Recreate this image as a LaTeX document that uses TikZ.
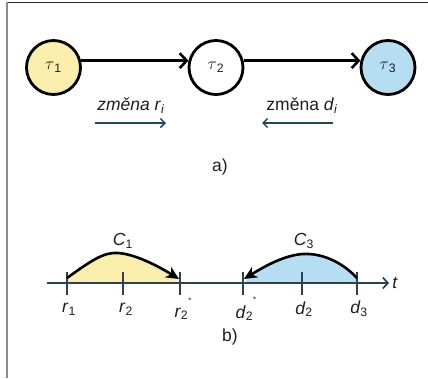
\documentclass[tikz,border=0pt]{standalone}
\usepackage{fontspec}
\setmainfont{Liberation Sans}
\usetikzlibrary{arrows.meta}
\definecolor{cyel}{RGB}{249,238,172}
\definecolor{cblu}{RGB}{182,222,243}
\definecolor{cteal}{RGB}{35,72,88}
\definecolor{caxis}{RGB}{45,65,78}
\definecolor{ctxt}{RGB}{30,30,30}
\definecolor{cframe}{RGB}{140,140,140}
\begin{document}
\begin{tikzpicture}[x=1pt,y=-1pt,
  every node/.style={text=ctxt,font=\fontsize{17.5}{20}\selectfont,inner sep=0pt},
  task/.style={circle,draw=black,line width=2.8pt,minimum size=54pt,inner sep=0pt},
  flow/.style={line width=2.6pt,-{Straight Barb[length=7pt,width=15pt]}},
  move/.style={line width=1.5pt,draw=cteal,-{Straight Barb[length=4.5pt,width=9pt]}},
  axisline/.style={line width=1.7pt,draw=caxis,-{Straight Barb[length=5pt,width=11pt]}},
  tickline/.style={line width=1.6pt,draw=caxis},
  carc/.style={line width=2.6pt,draw=black,-{Stealth[length=13pt,width=12pt,inset=4pt]}},
  lbl/.style={}]
\useasboundingbox (0,0) rectangle (428,378);
% frame
\draw[line width=1pt,black!85] (6,2.5) -- (428,2.5);
\draw[line width=2pt,cframe] (7,2) -- (7,378);
% part a
\node[task,fill=cyel] (t1) at (53.5,67.5) {$\tau$\textsubscript{1}};
\node[task,fill=white] (t2) at (216,67.5) {$\tau$\textsubscript{2}};
\node[task,fill=cblu] (t3) at (388,67.5) {$\tau$\textsubscript{3}};
\draw[flow] (t1.14) -- (t2.166);
\draw[flow] (t2.14) -- (t3.166);
\node[lbl] (zr) at (131,106) {\textit{změna r}\textsubscript{\textit{i}}};
\node[lbl] (zd) at (302,106) {změna \textit{d}\textsubscript{\textit{i}}};
\coordinate (zr1) at (95,123);
\coordinate (zr2) at (166,123);
\coordinate (zd1) at (333,123);
\coordinate (zd2) at (262,123);
\draw[move] (zr1) -- (zr2);
\draw[move] (zd1) -- (zd2);
\node (la) at (220,167) {a)};
% part b
\fill[cyel] (67,283) -- (67,278) .. controls (92,260) and (104,252) .. (118,253) .. controls (135,254) and (158,266) .. (177,280) -- (177,283) -- cycle;
\fill[cblu] (357,283) -- (357,278) .. controls (342,262) and (322,253) .. (303,254) .. controls (285,255) and (265,266) .. (246,280) -- (246,283) -- cycle;
\coordinate (ax0) at (47,283);
\coordinate (ax1) at (389,283);
\draw[axisline] (ax0) -- (ax1);
\node (tt) at (395,283) {\textit{t}};
\foreach \x in {67,123,180,243,302,357} \draw[tickline] (\x,272) -- (\x,295);
\coordinate (c1s) at (67,278);
\coordinate (c1e) at (179,279);
\coordinate (c3s) at (357,278);
\coordinate (c3e) at (244,279);
\draw[carc] (c1s) .. controls (92,260) and (104,252) .. (118,253) .. controls (135,254) and (158,266) .. (c1e);
\draw[carc] (c3s) .. controls (342,262) and (322,253) .. (303,254) .. controls (285,255) and (265,266) .. (c3e);
\node (C1) at (123,241) {\textit{C}\textsubscript{1}};
\node (C3) at (304,241) {\textit{C}\textsubscript{3}};
\node (r1) at (69,309) {\textit{r}\textsubscript{1}};
\node (r2) at (126,309) {\textit{r}\textsubscript{2}};
\node (r2s) at (183,309) {\textit{r}\textsubscript{2}\raisebox{0.75em}{\fontsize{8}{8}\selectfont *}};
\node (d2s) at (246,309) {\textit{d}\textsubscript{2}\raisebox{0.9em}{\fontsize{8}{8}\selectfont *}};
\node (d2) at (304,309) {\textit{d}\textsubscript{2}};
\node (d3) at (359,309) {\textit{d}\textsubscript{3}};
\node (lb) at (230,337) {b)};
\end{tikzpicture}
\end{document}
